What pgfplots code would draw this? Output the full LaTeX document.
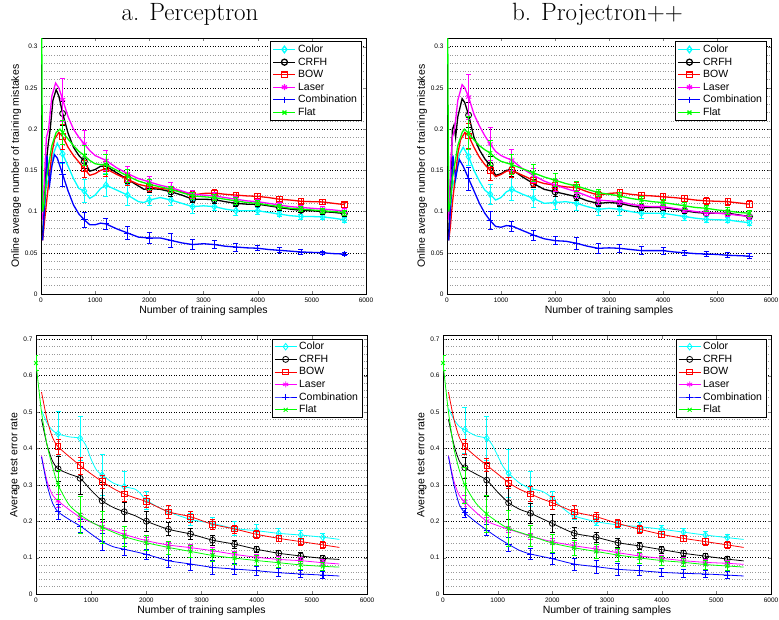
\documentclass[border=0pt]{standalone}
\usepackage{pgfplots}
\pgfplotsset{compat=1.18}
\usepackage{fontspec}
\newfontfamily\arial{Liberation Sans}
\definecolor{mcyan}{rgb}{0,1,1}
\definecolor{mmag}{rgb}{1,0,1}
\definecolor{mgreen}{rgb}{0,1,0}
\definecolor{mred}{rgb}{1,0,0}
\definecolor{pblue}{RGB}{0,0,255}
\begin{document}
\begin{tikzpicture}
\pgfplotsset{
  every axis title/.style={at={(0.5,1)}, anchor=base, yshift=18pt, inner sep=0pt, font=\fontsize{25}{29}\selectfont},
  base/.style={
    scale only axis,
    anchor=south west,
    clip mode=individual,
    xmin=0, xmax=6000,
    xtick={0,1000,2000,3000,4000,5000,6000},
    xticklabels={0,1000,2000,3000,4000,5000,6000},
    tick label style={font=\arial\fontsize{6.5}{7}\selectfont, /pgf/number format/assume math mode=true},
    label style={font=\arial\fontsize{10.5}{12}\selectfont},
    xlabel={Number of training samples},
    xlabel style={yshift=3pt},
    ylabel style={yshift=-3pt},
    ymajorgrids, yminorgrids,
    major grid style={black, line width=0.55pt, dash pattern=on 0.8pt off 1.8pt},
    minor grid style={black!40, line width=0.55pt, dash pattern=on 0.8pt off 1.8pt},
    major tick length=3pt, minor tick length=0pt,
    tick align=inside,
    axis line style={line width=0.6pt},
    legend style={font=\arial\fontsize{10.5}{12.6}\selectfont, at={(1,1)}, anchor=north east, xshift=-4.5pt, yshift=-3pt, draw=black, line width=0.9pt, inner xsep=2pt, inner ysep=1pt, row sep=-0.3pt, cells={anchor=west}},
    legend image code/.code={\draw[mark repeat=2,mark phase=2,##1] plot coordinates {(0pt,0pt)(11pt,0pt)(22pt,0pt)};},
  },
  topax/.style={base, ymin=0, ymax=0.31, ytick={0,0.05,0.1,0.15,0.2,0.25,0.3}, yticklabels={0,0.05,0.1,0.15,0.2,0.25,0.3}, minor y tick num=4, ylabel={Online average number of training mistakes}, height=255.5pt},
  botax/.style={base, ymin=0, ymax=0.71, ytick={0,0.1,0.2,0.3,0.4,0.5,0.6,0.7}, yticklabels={0,0.1,0.2,0.3,0.4,0.5,0.6,0.7}, minor y tick num=4, ylabel={Average test error rate}, height=258.3pt},
  cColor/.style={color=mcyan, mark=diamond, mark options={solid, mark size=3.3pt}},
  cCRFH/.style={color=black, mark=o, mark options={solid, mark size=3pt}},
  cBOW/.style={color=mred, mark=square, mark options={solid, mark size=2.8pt}},
  cLaser/.style={color=mmag, mark=asterisk, mark options={solid, mark size=3pt}},
  cFlat/.style={color=mgreen, mark=x, mark options={solid, mark size=2.8pt}},
  lnT/.style={forget plot, no markers, line width=1.3pt},
  lnB/.style={forget plot, no markers, line width=0.8pt, smooth, tension=0.45},
  mkT/.style={forget plot, only marks, line width=0.9pt, error bars/.cd, y dir=both, y explicit, error bar style={line width=0.75pt, solid}, error mark options={rotate=90, line width=0.75pt, mark size=2.5pt, solid}},
  mkB/.style={forget plot, only marks, line width=0.75pt, error bars/.cd, y dir=both, y explicit, error bar style={line width=0.65pt, solid}, error mark options={rotate=90, line width=0.65pt, mark size=2.5pt, solid}},
  mkTc/.style={forget plot, only marks, line width=0.9pt, error bars/.cd, y dir=both, y explicit, error bar style={line width=0.75pt, solid, pblue}, error mark options={rotate=90, line width=0.75pt, mark size=2.5pt, solid, pblue}},
  mkBc/.style={forget plot, only marks, line width=0.75pt, error bars/.cd, y dir=both, y explicit, error bar style={line width=0.65pt, solid, pblue}, error mark options={rotate=90, line width=0.65pt, mark size=2.5pt, solid, pblue}},
}
\path[use as bounding box] (0pt,0pt) rectangle (779pt,619pt);

% ================= TOP LEFT =================
\begin{axis}[topax, at={(41pt,325pt)}, width=325pt, title={a. Perceptron}, title style={xshift=-13.5pt}]
\addlegendimage{cColor, line width=1.3pt}\addlegendentry{Color}
\addlegendimage{cCRFH, line width=1.3pt}\addlegendentry{CRFH}
\addlegendimage{cBOW, line width=1.3pt}\addlegendentry{BOW}
\addlegendimage{cLaser, line width=1.3pt}\addlegendentry{Laser}
\addlegendimage{pblue, mark=+, mark options={solid, pblue, mark size=3.2pt}, line width=1.3pt}\addlegendentry{Combination}
\addlegendimage{cFlat, line width=1.3pt}\addlegendentry{Flat}
% Color
\addplot[cColor, lnT] coordinates {(30,0.07) (60,0.10) (100,0.14) (140,0.13) (180,0.15) (230,0.17) (300,0.183) (400,0.170) (500,0.155) (600,0.14) (700,0.128) (800,0.125) (900,0.116) (1000,0.12) (1100,0.128) (1200,0.132) (1400,0.126) (1600,0.120) (1800,0.112) (1900,0.111) (2000,0.114) (2200,0.117) (2400,0.114) (2600,0.11) (2800,0.106) (3000,0.107) (3200,0.106) (3400,0.103) (3600,0.101) (3800,0.101) (4000,0.101) (4200,0.099) (4400,0.097) (4600,0.095) (4800,0.094) (5000,0.094) (5200,0.0935) (5400,0.092) (5600,0.090)};
\addplot[cColor, mkT] table[row sep=\\, x=x, y=y, y error=e] {x y e\\ 400 0.170 0.012\\ 800 0.125 0.014\\ 1200 0.132 0.014\\ 1600 0.120 0.013\\ 2000 0.114 0.006\\ 2400 0.114 0.007\\ 2800 0.106 0.008\\ 3200 0.106 0.005\\ 3600 0.101 0.006\\ 4000 0.101 0.004\\ 4400 0.097 0.003\\ 4800 0.094 0.003\\ 5200 0.0935 0.003\\ 5600 0.090 0.003\\};
% CRFH
\addplot[cCRFH, lnT] coordinates {(30,0.07) (60,0.11) (100,0.16) (130,0.18) (170,0.20) (220,0.235) (280,0.248) (330,0.24) (400,0.219) (500,0.195) (600,0.178) (700,0.168) (800,0.161) (900,0.149) (1000,0.151) (1100,0.155) (1200,0.155) (1400,0.147) (1600,0.139) (1800,0.131) (1900,0.127) (2000,0.128) (2200,0.127) (2400,0.124) (2600,0.12) (2800,0.115) (3000,0.115) (3200,0.1145) (3400,0.112) (3600,0.110) (3800,0.109) (4000,0.109) (4200,0.107) (4400,0.105) (4600,0.103) (4800,0.1015) (5000,0.101) (5200,0.100) (5400,0.099) (5600,0.0976)};
\addplot[cCRFH, mkT] table[row sep=\\, x=x, y=y, y error=e] {x y e\\ 400 0.219 0.015\\ 800 0.161 0.008\\ 1200 0.155 0.006\\ 1600 0.139 0.005\\ 2000 0.128 0.005\\ 2400 0.124 0.005\\ 2800 0.115 0.004\\ 3200 0.1145 0.004\\ 3600 0.110 0.004\\ 4000 0.109 0.003\\ 4400 0.105 0.003\\ 4800 0.1015 0.003\\ 5200 0.100 0.003\\ 5600 0.0976 0.003\\};
% BOW
\addplot[cBOW, lnT] coordinates {(30,0.065) (60,0.085) (100,0.11) (150,0.14) (200,0.17) (250,0.188) (330,0.196) (400,0.191) (500,0.178) (600,0.168) (700,0.16) (800,0.152) (900,0.144) (1000,0.146) (1100,0.150) (1200,0.152) (1400,0.145) (1600,0.139) (1800,0.133) (2000,0.130) (2200,0.128) (2400,0.127) (2600,0.124) (2800,0.120) (3000,0.122) (3200,0.1225) (3400,0.121) (3600,0.120) (3800,0.119) (4000,0.1185) (4200,0.117) (4400,0.115) (4600,0.114) (4800,0.1125) (5000,0.112) (5200,0.1117) (5400,0.110) (5600,0.1085)};
\addplot[cBOW, mkT] table[row sep=\\, x=x, y=y, y error=e] {x y e\\ 400 0.191 0.015\\ 800 0.152 0.010\\ 1200 0.152 0.009\\ 1600 0.139 0.007\\ 2000 0.130 0.005\\ 2400 0.127 0.004\\ 2800 0.120 0.004\\ 3200 0.1225 0.004\\ 3600 0.120 0.003\\ 4000 0.1185 0.003\\ 4400 0.115 0.003\\ 4800 0.1125 0.003\\ 5200 0.1117 0.003\\ 5600 0.1085 0.003\\};
% Laser
\addplot[cLaser, lnT] coordinates {(30,0.09) (70,0.15) (100,0.19) (140,0.20) (200,0.24) (270,0.256) (330,0.25) (400,0.236) (500,0.215) (600,0.200) (700,0.190) (800,0.182) (900,0.174) (1000,0.168) (1100,0.165) (1200,0.162) (1400,0.153) (1600,0.146) (1800,0.140) (2000,0.136) (2200,0.132) (2400,0.129) (2600,0.125) (2800,0.121) (3000,0.12) (3200,0.119) (3400,0.117) (3600,0.115) (3800,0.113) (4000,0.112) (4200,0.110) (4400,0.108) (4600,0.106) (4800,0.105) (5000,0.104) (5200,0.103) (5400,0.102) (5600,0.1005)};
\addplot[cLaser, mkT] table[row sep=\\, x=x, y=y, y error=e] {x y e\\ 400 0.236 0.026\\ 800 0.182 0.016\\ 1200 0.162 0.012\\ 1600 0.146 0.009\\ 2000 0.136 0.007\\ 2400 0.129 0.006\\ 2800 0.121 0.005\\ 3200 0.119 0.004\\ 3600 0.115 0.003\\ 4000 0.112 0.003\\ 4400 0.108 0.003\\ 4800 0.105 0.003\\ 5200 0.103 0.003\\ 5600 0.1005 0.003\\};
% Combination
\addplot[pblue, lnT] coordinates {(30,0.065) (80,0.12) (110,0.168) (160,0.133) (200,0.155) (250,0.169) (300,0.165) (400,0.145) (500,0.125) (600,0.108) (700,0.097) (800,0.090) (900,0.084) (1000,0.084) (1100,0.086) (1200,0.085) (1400,0.079) (1600,0.074) (1800,0.069) (2000,0.068) (2200,0.068) (2400,0.065) (2600,0.062) (2800,0.060) (3000,0.061) (3200,0.060) (3400,0.058) (3600,0.057) (3800,0.056) (4000,0.0555) (4200,0.054) (4400,0.053) (4600,0.052) (4800,0.051) (5000,0.0505) (5200,0.050) (5400,0.049) (5600,0.0485)};
\addplot[pblue, mark=+, mark options={solid, pblue, mark size=3.2pt}, mkTc] table[row sep=\\, x=x, y=y, y error=e] {x y e\\ 400 0.145 0.015\\ 800 0.090 0.009\\ 1200 0.085 0.007\\ 1600 0.074 0.008\\ 2000 0.068 0.007\\ 2400 0.065 0.009\\ 2800 0.060 0.006\\ 3200 0.060 0.005\\ 3600 0.057 0.005\\ 4000 0.0555 0.003\\ 4400 0.053 0.003\\ 4800 0.051 0.003\\ 5200 0.050 0.002\\ 5600 0.0485 0.002\\};
% Flat
\addplot[cFlat, lnT] coordinates {(0,0.5) (30,0.10) (60,0.11) (100,0.14) (150,0.16) (200,0.18) (280,0.196) (350,0.20) (400,0.196) (500,0.188) (600,0.18) (700,0.173) (800,0.168) (900,0.162) (1000,0.158) (1100,0.157) (1200,0.157) (1400,0.15) (1600,0.143) (1800,0.137) (2000,0.133) (2200,0.130) (2400,0.127) (2600,0.123) (2800,0.119) (3000,0.118) (3200,0.117) (3400,0.115) (3600,0.113) (3800,0.111) (4000,0.110) (4200,0.108) (4400,0.106) (4600,0.104) (4800,0.103) (5000,0.102) (5200,0.101) (5400,0.100) (5600,0.099)};
\addplot[cFlat, mkT] table[row sep=\\, x=x, y=y, y error=e] {x y e\\ 400 0.196 0.015\\ 800 0.168 0.012\\ 1200 0.157 0.012\\ 1600 0.143 0.008\\ 2000 0.133 0.006\\ 2400 0.127 0.004\\ 2800 0.119 0.004\\ 3200 0.117 0.004\\ 3600 0.113 0.004\\ 4000 0.110 0.003\\ 4400 0.106 0.003\\ 4800 0.103 0.003\\ 5200 0.101 0.003\\ 5600 0.099 0.003\\};
\end{axis}

% ================= TOP RIGHT =================
\begin{axis}[topax, at={(447pt,325pt)}, width=324pt, title={b. Projectron++}, title style={xshift=-11.5pt}]
\addlegendimage{cColor, line width=1.3pt}\addlegendentry{Color}
\addlegendimage{cCRFH, line width=1.3pt}\addlegendentry{CRFH}
\addlegendimage{cBOW, line width=1.3pt}\addlegendentry{BOW}
\addlegendimage{cLaser, line width=1.3pt}\addlegendentry{Laser}
\addlegendimage{pblue, mark=+, mark options={solid, pblue, mark size=3.2pt}, line width=1.3pt}\addlegendentry{Combination}
\addlegendimage{cFlat, line width=1.3pt}\addlegendentry{Flat}
\addplot[cColor, lnT] coordinates {(30,0.065) (60,0.1) (100,0.14) (140,0.13) (180,0.15) (230,0.17) (300,0.178) (400,0.1666) (500,0.15) (600,0.137) (700,0.126) (800,0.121) (900,0.114) (1000,0.117) (1100,0.124) (1200,0.127) (1400,0.121) (1600,0.116) (1800,0.110) (2000,0.111) (2200,0.112) (2400,0.110) (2600,0.106) (2800,0.1027) (3000,0.104) (3200,0.1027) (3400,0.100) (3600,0.098) (3800,0.098) (4000,0.098) (4200,0.096) (4400,0.094) (4600,0.092) (4800,0.0906) (5000,0.090) (5200,0.0898) (5400,0.088) (5600,0.0865)};
\addplot[cColor, mkT] table[row sep=\\, x=x, y=y, y error=e] {x y e\\ 400 0.1666 0.010\\ 800 0.121 0.012\\ 1200 0.127 0.014\\ 1600 0.116 0.011\\ 2000 0.111 0.008\\ 2400 0.110 0.009\\ 2800 0.1027 0.007\\ 3200 0.1027 0.007\\ 3600 0.098 0.006\\ 4000 0.098 0.005\\ 4400 0.094 0.0045\\ 4800 0.0906 0.004\\ 5200 0.0898 0.003\\ 5600 0.0865 0.003\\};
\addplot[cCRFH, lnT] coordinates {(30,0.07) (60,0.12) (100,0.2) (130,0.205) (160,0.19) (200,0.215) (280,0.237) (330,0.232) (400,0.217) (500,0.19) (600,0.175) (700,0.164) (800,0.1565) (900,0.144) (1000,0.146) (1100,0.150) (1200,0.151) (1400,0.142) (1600,0.134) (1800,0.127) (2000,0.124) (2200,0.121) (2400,0.118) (2600,0.113) (2800,0.110) (3000,0.111) (3200,0.110) (3400,0.107) (3600,0.105) (3800,0.105) (4000,0.105) (4200,0.103) (4400,0.101) (4600,0.099) (4800,0.098) (5000,0.098) (5200,0.098) (5400,0.096) (5600,0.094)};
\addplot[cCRFH, mkT] table[row sep=\\, x=x, y=y, y error=e] {x y e\\ 400 0.217 0.015\\ 800 0.1565 0.010\\ 1200 0.151 0.008\\ 1600 0.134 0.005\\ 2000 0.124 0.005\\ 2400 0.118 0.005\\ 2800 0.110 0.004\\ 3200 0.110 0.004\\ 3600 0.105 0.004\\ 4000 0.105 0.003\\ 4400 0.101 0.003\\ 4800 0.098 0.003\\ 5200 0.098 0.003\\ 5600 0.094 0.003\\};
\addplot[cBOW, lnT] coordinates {(30,0.065) (60,0.08) (100,0.11) (150,0.14) (200,0.17) (250,0.187) (330,0.196) (400,0.192) (500,0.178) (600,0.166) (700,0.157) (800,0.150) (900,0.1425) (1000,0.145) (1100,0.149) (1200,0.150) (1400,0.144) (1600,0.138) (1800,0.134) (2000,0.132) (2200,0.130) (2400,0.129) (2600,0.124) (2800,0.120) (3000,0.122) (3200,0.123) (3400,0.121) (3600,0.1197) (3800,0.119) (4000,0.118) (4200,0.117) (4400,0.1157) (4600,0.114) (4800,0.113) (5000,0.1125) (5200,0.112) (5400,0.1105) (5600,0.109)};
\addplot[cBOW, mkT] table[row sep=\\, x=x, y=y, y error=e] {x y e\\ 400 0.192 0.015\\ 800 0.150 0.012\\ 1200 0.150 0.009\\ 1600 0.138 0.007\\ 2000 0.132 0.006\\ 2400 0.129 0.006\\ 2800 0.120 0.004\\ 3200 0.123 0.004\\ 3600 0.1197 0.004\\ 4000 0.118 0.004\\ 4400 0.1157 0.004\\ 4800 0.113 0.004\\ 5200 0.112 0.004\\ 5600 0.109 0.004\\};
\addplot[cLaser, lnT] coordinates {(30,0.09) (70,0.16) (100,0.19) (140,0.20) (200,0.235) (280,0.254) (330,0.25) (400,0.239) (500,0.218) (600,0.204) (700,0.192) (800,0.182) (900,0.173) (1000,0.168) (1100,0.165) (1200,0.1625) (1400,0.152) (1600,0.144) (1800,0.137) (2000,0.132) (2200,0.128) (2400,0.124) (2600,0.119) (2800,0.114) (3000,0.113) (3200,0.112) (3400,0.109) (3600,0.1068) (3800,0.106) (4000,0.106) (4200,0.104) (4400,0.102) (4600,0.100) (4800,0.0987) (5000,0.098) (5200,0.097) (5400,0.0955) (5600,0.094)};
\addplot[cLaser, mkT] table[row sep=\\, x=x, y=y, y error=e] {x y e\\ 400 0.239 0.027\\ 800 0.182 0.020\\ 1200 0.1625 0.013\\ 1600 0.144 0.009\\ 2000 0.132 0.007\\ 2400 0.124 0.007\\ 2800 0.114 0.005\\ 3200 0.112 0.003\\ 3600 0.1068 0.003\\ 4000 0.106 0.003\\ 4400 0.102 0.003\\ 4800 0.0987 0.003\\ 5200 0.097 0.003\\ 5600 0.094 0.003\\};
\addplot[pblue, lnT] coordinates {(30,0.065) (80,0.12) (110,0.168) (160,0.14) (200,0.155) (230,0.163) (300,0.155) (400,0.140) (500,0.125) (600,0.110) (700,0.098) (800,0.089) (900,0.082) (1000,0.081) (1100,0.083) (1200,0.0825) (1400,0.077) (1600,0.0716) (1800,0.067) (2000,0.0647) (2200,0.064) (2400,0.0615) (2600,0.058) (2800,0.0554) (3000,0.056) (3200,0.0554) (3400,0.054) (3600,0.0526) (3800,0.0526) (4000,0.0526) (4200,0.051) (4400,0.050) (4600,0.049) (4800,0.0485) (5000,0.048) (5200,0.047) (5400,0.0465) (5600,0.046)};
\addplot[pblue, mark=+, mark options={solid, pblue, mark size=3.2pt}, mkTc] table[row sep=\\, x=x, y=y, y error=e] {x y e\\ 400 0.140 0.014\\ 800 0.089 0.011\\ 1200 0.0825 0.006\\ 1600 0.0716 0.006\\ 2000 0.0647 0.005\\ 2400 0.0615 0.007\\ 2800 0.0554 0.006\\ 3200 0.0554 0.005\\ 3600 0.0526 0.005\\ 4000 0.0526 0.004\\ 4400 0.050 0.003\\ 4800 0.0485 0.003\\ 5200 0.047 0.003\\ 5600 0.046 0.003\\};
\addplot[cFlat, lnT] coordinates {(0,0.5) (30,0.10) (60,0.11) (100,0.14) (150,0.16) (200,0.18) (280,0.196) (320,0.20) (400,0.195) (500,0.187) (600,0.18) (700,0.175) (800,0.171) (900,0.165) (1000,0.161) (1100,0.159) (1200,0.157) (1400,0.152) (1600,0.147) (1800,0.142) (2000,0.138) (2200,0.134) (2400,0.131) (2600,0.127) (2800,0.123) (3000,0.121) (3200,0.119) (3400,0.116) (3600,0.114) (3800,0.112) (4000,0.111) (4200,0.109) (4400,0.107) (4600,0.105) (4800,0.104) (5000,0.102) (5200,0.1007) (5400,0.099) (5600,0.098)};
\addplot[cFlat, mkT] table[row sep=\\, x=x, y=y, y error=e] {x y e\\ 400 0.195 0.020\\ 800 0.171 0.015\\ 1200 0.157 0.012\\ 1600 0.147 0.010\\ 2000 0.138 0.008\\ 2400 0.131 0.006\\ 2800 0.123 0.004\\ 3200 0.119 0.004\\ 3600 0.114 0.004\\ 4000 0.111 0.004\\ 4400 0.107 0.004\\ 4800 0.104 0.004\\ 5200 0.1007 0.004\\ 5600 0.098 0.004\\};
\end{axis}

% ================= BOTTOM LEFT =================
\begin{axis}[botax, at={(36pt,25pt)}, width=331pt]
\addlegendimage{cColor, line width=0.8pt}\addlegendentry{Color}
\addlegendimage{cCRFH, line width=0.8pt}\addlegendentry{CRFH}
\addlegendimage{cBOW, line width=0.8pt}\addlegendentry{BOW}
\addlegendimage{cLaser, line width=0.8pt}\addlegendentry{Laser}
\addlegendimage{pblue, mark=+, mark options={solid, pblue, mark size=3.2pt}, line width=0.9pt}\addlegendentry{Combination}
\addlegendimage{cFlat, line width=0.8pt}\addlegendentry{Flat}
\addplot[cColor, lnB] coordinates {(100,0.505) (200,0.47) (300,0.45) (400,0.44) (600,0.432) (800,0.428) (900,0.41) (1000,0.37) (1100,0.34) (1200,0.327) (1400,0.305) (1600,0.295) (1800,0.288) (1900,0.275) (2000,0.258) (2200,0.24) (2400,0.226) (2800,0.205) (3200,0.194) (3600,0.180) (4000,0.174) (4400,0.1667) (4800,0.162) (5200,0.156) (5500,0.150)};
\addplot[cColor, mkB] table[row sep=\\, x=x, y=y, y error=e] {x y e\\ 400 0.44 0.062\\ 800 0.428 0.06\\ 1200 0.327 0.057\\ 1600 0.295 0.043\\ 2000 0.258 0.025\\ 2400 0.226 0.018\\ 2800 0.205 0.017\\ 3200 0.194 0.017\\ 3600 0.180 0.02\\ 4000 0.174 0.017\\ 4400 0.1667 0.014\\ 4800 0.162 0.013\\ 5200 0.156 0.011\\};
\addplot[cCRFH, lnB] coordinates {(100,0.48) (200,0.41) (300,0.365) (400,0.344) (600,0.33) (800,0.318) (1000,0.285) (1200,0.256) (1400,0.238) (1600,0.226) (1800,0.215) (2000,0.20) (2400,0.178) (2800,0.165) (3200,0.148) (3600,0.137) (4000,0.123) (4400,0.112) (4800,0.1045) (5200,0.098) (5500,0.095)};
\addplot[cCRFH, mkB] table[row sep=\\, x=x, y=y, y error=e] {x y e\\ 400 0.344 0.034\\ 800 0.318 0.045\\ 1200 0.256 0.05\\ 1600 0.226 0.026\\ 2000 0.20 0.027\\ 2400 0.178 0.018\\ 2800 0.165 0.016\\ 3200 0.148 0.014\\ 3600 0.137 0.011\\ 4000 0.123 0.009\\ 4400 0.112 0.009\\ 4800 0.1045 0.009\\ 5200 0.098 0.008\\};
\addplot[cBOW, lnB] coordinates {(100,0.555) (200,0.48) (300,0.43) (400,0.405) (600,0.378) (800,0.353) (1000,0.33) (1200,0.309) (1400,0.29) (1600,0.275) (1800,0.264) (2000,0.254) (2400,0.226) (2800,0.2125) (3200,0.1915) (3600,0.1787) (4000,0.164) (4400,0.153) (4800,0.144) (5200,0.135) (5500,0.128)};
\addplot[cBOW, mkB] table[row sep=\\, x=x, y=y, y error=e] {x y e\\ 400 0.405 0.02\\ 800 0.353 0.024\\ 1200 0.309 0.018\\ 1600 0.275 0.02\\ 2000 0.254 0.016\\ 2400 0.226 0.018\\ 2800 0.2125 0.015\\ 3200 0.1915 0.013\\ 3600 0.1787 0.011\\ 4000 0.164 0.01\\ 4400 0.153 0.009\\ 4800 0.144 0.009\\ 5200 0.135 0.009\\};
\addplot[cLaser, lnB] coordinates {(100,0.38) (200,0.31) (300,0.272) (400,0.256) (600,0.232) (800,0.211) (1000,0.197) (1200,0.185) (1600,0.164) (2000,0.1466) (2400,0.1347) (2800,0.1274) (3200,0.119) (3600,0.109) (4000,0.101) (4400,0.095) (4800,0.0916) (5200,0.086) (5500,0.0825)};
\addplot[cLaser, mkB] table[row sep=\\, x=x, y=y, y error=e] {x y e\\ 400 0.256 0.017\\ 800 0.211 0.011\\ 1200 0.185 0.011\\ 1600 0.164 0.011\\ 2000 0.1466 0.01\\ 2400 0.1347 0.008\\ 2800 0.1274 0.008\\ 3200 0.119 0.008\\ 3600 0.109 0.008\\ 4000 0.101 0.008\\ 4400 0.095 0.008\\ 4800 0.0916 0.008\\ 5200 0.086 0.008\\};
\addplot[pblue, lnB] coordinates {(100,0.377) (200,0.30) (300,0.25) (400,0.226) (600,0.205) (800,0.187) (1000,0.165) (1200,0.144) (1400,0.13) (1600,0.123) (2000,0.109) (2400,0.0916) (2800,0.0825) (3200,0.0733) (3600,0.0687) (4000,0.064) (4400,0.0586) (4800,0.055) (5200,0.052) (5500,0.0495)};
\addplot[pblue, mark=+, mark options={solid, pblue, mark size=3.2pt}, mkBc] table[row sep=\\, x=x, y=y, y error=e] {x y e\\ 400 0.226 0.02\\ 800 0.187 0.017\\ 1200 0.144 0.024\\ 1600 0.123 0.016\\ 2000 0.109 0.015\\ 2400 0.0916 0.018\\ 2800 0.0825 0.017\\ 3200 0.0733 0.018\\ 3600 0.0687 0.015\\ 4000 0.064 0.012\\ 4400 0.0586 0.011\\ 4800 0.055 0.01\\ 5200 0.052 0.009\\};
\addplot[cFlat, lnB] coordinates {(0,0.635) (100,0.50) (200,0.41) (300,0.35) (400,0.30) (600,0.245) (800,0.218) (1000,0.198) (1200,0.183) (1600,0.158) (2000,0.141) (2400,0.128) (2800,0.117) (3200,0.106) (3600,0.0985) (4000,0.092) (4400,0.086) (4800,0.080) (5200,0.076) (5500,0.074)};
\addplot[cFlat, mkB] table[row sep=\\, x=x, y=y, y error=e] {x y e\\ 0 0.635 0.02\\ 400 0.30 0.04\\ 800 0.218 0.05\\ 1200 0.183 0.045\\ 1600 0.158 0.027\\ 2000 0.141 0.02\\ 2400 0.128 0.018\\ 2800 0.117 0.016\\ 3200 0.106 0.016\\ 3600 0.0985 0.016\\ 4000 0.092 0.014\\ 4400 0.086 0.012\\ 4800 0.080 0.011\\ 5200 0.076 0.01\\};
\end{axis}

% ================= BOTTOM RIGHT =================
\begin{axis}[botax, at={(443pt,25pt)}, width=328pt]
\addlegendimage{cColor, line width=0.8pt}\addlegendentry{Color}
\addlegendimage{cCRFH, line width=0.8pt}\addlegendentry{CRFH}
\addlegendimage{cBOW, line width=0.8pt}\addlegendentry{BOW}
\addlegendimage{cLaser, line width=0.8pt}\addlegendentry{Laser}
\addlegendimage{pblue, mark=+, mark options={solid, pblue, mark size=3.2pt}, line width=0.9pt}\addlegendentry{Combination}
\addlegendimage{cFlat, line width=0.8pt}\addlegendentry{Flat}
\addplot[cColor, lnB] coordinates {(100,0.51) (200,0.48) (300,0.46) (400,0.451) (600,0.435) (800,0.428) (900,0.41) (1000,0.38) (1100,0.35) (1200,0.332) (1400,0.305) (1600,0.29) (1800,0.283) (1900,0.275) (2000,0.263) (2200,0.235) (2400,0.2144) (2800,0.199) (3200,0.19) (3600,0.185) (4000,0.178) (4400,0.17) (4800,0.162) (5200,0.155) (5500,0.15)};
\addplot[cColor, mkB] table[row sep=\\, x=x, y=y, y error=e] {x y e\\ 400 0.451 0.063\\ 800 0.428 0.06\\ 1200 0.332 0.066\\ 1600 0.29 0.048\\ 2000 0.263 0.018\\ 2400 0.2144 0.01\\ 2800 0.199 0.01\\ 3200 0.19 0.01\\ 3600 0.185 0.012\\ 4000 0.178 0.01\\ 4400 0.17 0.01\\ 4800 0.162 0.01\\ 5200 0.155 0.01\\};
\addplot[cCRFH, lnB] coordinates {(100,0.48) (200,0.41) (300,0.365) (400,0.347) (600,0.33) (800,0.313) (1000,0.28) (1200,0.251) (1400,0.233) (1600,0.222) (1800,0.208) (2000,0.194) (2400,0.167) (2800,0.156) (3200,0.141) (3600,0.132) (4000,0.122) (4400,0.112) (4800,0.104) (5200,0.096) (5500,0.091)};
\addplot[cCRFH, mkB] table[row sep=\\, x=x, y=y, y error=e] {x y e\\ 400 0.347 0.028\\ 800 0.313 0.045\\ 1200 0.251 0.045\\ 1600 0.222 0.028\\ 2000 0.194 0.025\\ 2400 0.167 0.015\\ 2800 0.156 0.013\\ 3200 0.141 0.012\\ 3600 0.132 0.01\\ 4000 0.122 0.009\\ 4400 0.112 0.008\\ 4800 0.104 0.008\\ 5200 0.096 0.008\\};
\addplot[cBOW, lnB] coordinates {(100,0.555) (200,0.48) (300,0.43) (400,0.405) (600,0.378) (800,0.354) (1000,0.33) (1200,0.306) (1400,0.288) (1600,0.275) (1800,0.262) (2000,0.251) (2400,0.226) (2800,0.2125) (3200,0.194) (3600,0.178) (4000,0.164) (4400,0.153) (4800,0.144) (5200,0.135) (5500,0.128)};
\addplot[cBOW, mkB] table[row sep=\\, x=x, y=y, y error=e] {x y e\\ 400 0.405 0.02\\ 800 0.354 0.018\\ 1200 0.306 0.015\\ 1600 0.275 0.02\\ 2000 0.251 0.018\\ 2400 0.226 0.017\\ 2800 0.2125 0.013\\ 3200 0.194 0.01\\ 3600 0.178 0.01\\ 4000 0.164 0.009\\ 4400 0.153 0.009\\ 4800 0.144 0.009\\ 5200 0.135 0.009\\};
\addplot[cLaser, lnB] coordinates {(100,0.38) (200,0.31) (300,0.27) (400,0.2536) (600,0.225) (800,0.2005) (1000,0.188) (1200,0.178) (1600,0.159) (2000,0.1437) (2400,0.1327) (2800,0.1236) (3200,0.1135) (3600,0.1045) (4000,0.098) (4400,0.0916) (4800,0.087) (5200,0.0843) (5500,0.0815)};
\addplot[cLaser, mkB] table[row sep=\\, x=x, y=y, y error=e] {x y e\\ 400 0.2536 0.018\\ 800 0.2005 0.01\\ 1200 0.178 0.008\\ 1600 0.159 0.008\\ 2000 0.1437 0.008\\ 2400 0.1327 0.008\\ 2800 0.1236 0.008\\ 3200 0.1135 0.008\\ 3600 0.1045 0.008\\ 4000 0.098 0.008\\ 4400 0.0916 0.008\\ 4800 0.087 0.008\\ 5200 0.0843 0.008\\};
\addplot[pblue, lnB] coordinates {(100,0.378) (200,0.30) (300,0.245) (400,0.2234) (600,0.198) (800,0.1758) (1000,0.155) (1200,0.1365) (1400,0.12) (1600,0.11) (2000,0.097) (2400,0.0824) (2800,0.075) (3200,0.068) (3600,0.064) (4000,0.0596) (4400,0.0568) (4800,0.055) (5200,0.052) (5500,0.0495)};
\addplot[pblue, mark=+, mark options={solid, pblue, mark size=3.2pt}, mkBc] table[row sep=\\, x=x, y=y, y error=e] {x y e\\ 400 0.2234 0.012\\ 800 0.1758 0.015\\ 1200 0.1365 0.02\\ 1600 0.11 0.015\\ 2000 0.097 0.015\\ 2400 0.0824 0.017\\ 2800 0.075 0.017\\ 3200 0.068 0.017\\ 3600 0.064 0.014\\ 4000 0.0596 0.012\\ 4400 0.0568 0.01\\ 4800 0.055 0.01\\ 5200 0.052 0.01\\};
\addplot[cFlat, lnB] coordinates {(0,0.635) (100,0.50) (200,0.40) (300,0.34) (400,0.2995) (600,0.25) (800,0.22) (1000,0.198) (1200,0.18) (1600,0.16) (2000,0.14) (2400,0.127) (2800,0.117) (3200,0.107) (3600,0.099) (4000,0.092) (4400,0.087) (4800,0.081) (5200,0.077) (5500,0.074)};
\addplot[cFlat, mkB] table[row sep=\\, x=x, y=y, y error=e] {x y e\\ 0 0.635 0.02\\ 400 0.2995 0.05\\ 800 0.22 0.05\\ 1200 0.18 0.05\\ 1600 0.16 0.03\\ 2000 0.14 0.025\\ 2400 0.127 0.02\\ 2800 0.117 0.02\\ 3200 0.107 0.018\\ 3600 0.099 0.015\\ 4000 0.092 0.012\\ 4400 0.087 0.012\\ 4800 0.081 0.012\\ 5200 0.077 0.012\\};
\end{axis}
\end{tikzpicture}
\end{document}
